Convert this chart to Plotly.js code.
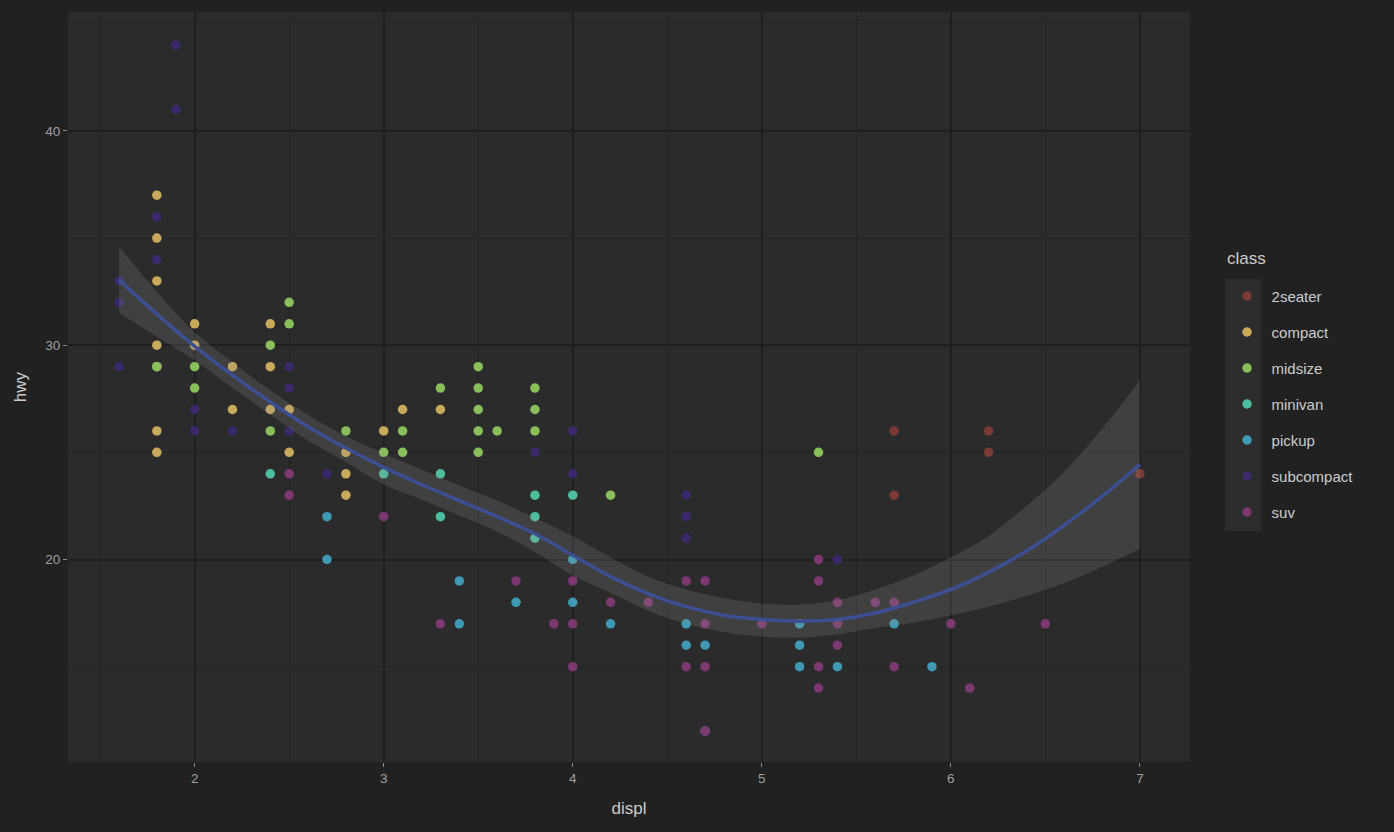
<!DOCTYPE html>
<html>
<head>
<meta charset="utf-8">
<script src="https://cdn.plot.ly/plotly-3.0.1.min.js"></script>
<style>
  html, body { margin: 0; padding: 0; background: #212121; }
  #chart { width: 1394px; height: 832px; }
</style>
</head>
<body>
<div id="chart"></div>
<script>
// ---- data (displ vs hwy, by class) ----
const classNames = ["2seater", "compact", "midsize", "minivan", "pickup", "subcompact", "suv"];
const classColors = ["#7b3a34", "#c9a95b", "#88bf5a", "#4dbd9e", "#3f99b4", "#3b2a6b", "#7d3872"];

const twoseaterX = [5.7, 5.7, 6.2, 6.2, 7.0];
const twoseaterY = [26, 23, 26, 25, 24];

const compactX = [1.8, 1.8, 1.8, 1.8, 1.8, 1.8, 1.8, 2.0, 2.0, 2.2, 2.2, 2.4, 2.4, 2.4, 2.5, 2.5, 2.8, 2.8, 2.8, 3.0, 3.1, 3.3];
const compactY = [37, 35, 33, 30, 29, 26, 25, 31, 30, 29, 27, 31, 29, 27, 27, 25, 25, 24, 23, 26, 27, 27];

const midsizeX = [1.8, 2.0, 2.0, 2.4, 2.4, 2.5, 2.5, 2.8, 3.0, 3.1, 3.1, 3.3, 3.5, 3.5, 3.5, 3.5, 3.5, 3.6, 3.8, 3.8, 3.8, 4.2, 5.3];
const midsizeY = [29, 29, 28, 30, 26, 32, 31, 26, 25, 26, 25, 28, 29, 28, 27, 26, 25, 26, 28, 27, 26, 23, 25];

const minivanX = [2.4, 3.0, 3.3, 3.3, 3.8, 3.8, 3.8, 4.0];
const minivanY = [24, 24, 24, 22, 23, 22, 21, 23];

const pickupX = [2.7, 2.7, 3.4, 3.4, 3.7, 4.0, 4.0, 4.2, 4.6, 4.6, 4.7, 4.7, 5.2, 5.2, 5.2, 5.4, 5.7, 5.9];
const pickupY = [22, 20, 19, 17, 18, 20, 18, 17, 17, 16, 16, 12, 17, 16, 15, 15, 17, 15];

const subcompactX = [1.6, 1.6, 1.6, 1.8, 1.8, 1.9, 1.9, 2.0, 2.0, 2.2, 2.5, 2.5, 2.5, 2.7, 3.8, 4.0, 4.0, 4.6, 4.6, 4.6, 5.4];
const subcompactY = [33, 32, 29, 36, 34, 44, 41, 27, 26, 26, 29, 28, 26, 24, 25, 26, 24, 23, 22, 21, 20];

const suvX = [2.5, 2.5, 3.0, 3.3, 3.7, 3.9, 4.0, 4.0, 4.0, 4.2, 4.4, 4.6, 4.6, 4.7, 4.7, 4.7, 4.7, 5.0, 5.3, 5.3, 5.3, 5.3, 5.4, 5.4, 5.4, 5.6, 5.7, 5.7, 6.0, 6.1, 6.5];
const suvY = [24, 23, 22, 17, 19, 17, 19, 17, 15, 18, 18, 19, 15, 19, 17, 15, 12, 17, 20, 19, 15, 14, 18, 17, 16, 18, 18, 15, 17, 14, 17];

// loess smooth and its band
const smoothX     = [1.6,  1.8,  2.0,  2.2,  2.4,  2.6,  2.8,  3.0,  3.2,  3.4,  3.6,  3.8,  4.0,  4.2,  4.4,  4.6,  4.8,  5.0,  5.2,   5.4,  5.6,  5.8,  6.0,  6.2,  6.4,  6.6,  6.8,  7.0];
const smoothFit   = [33.05,31.45,29.95,28.6, 27.35,26.2, 25.2, 24.3, 23.5, 22.75,22.0, 21.2, 20.2, 19.2, 18.4, 17.8, 17.4, 17.2, 17.12, 17.2, 17.5, 18.0, 18.6, 19.4, 20.4, 21.6, 22.95,24.43];
const smoothUpper = [34.6, 32.5, 30.6, 29.2, 27.9, 26.75,25.75,24.95,24.2, 23.45,22.75,21.95,21.1, 20.1, 19.2, 18.6, 18.2, 17.95,17.9,  18.1, 18.6, 19.25,20.1, 21.1, 22.5, 24.1, 26.1, 28.36];
const smoothLower = [31.5, 30.4, 29.3, 28.0, 26.75,25.55,24.55,23.5, 22.8, 22.05,21.3, 20.35,19.25,18.45,17.6, 17.0, 16.6, 16.4, 16.35, 16.5, 16.8, 17.05,17.4, 17.8, 18.3, 18.9, 19.65,20.5];

const xTicks = [2, 3, 4, 5, 6, 7];
const yTicks = [20, 30, 40];

// ---- build traces ----
const seriesX = [twoseaterX, compactX, midsizeX, minivanX, pickupX, subcompactX, suvX];
const seriesY = [twoseaterY, compactY, midsizeY, minivanY, pickupY, subcompactY, suvY];

const traces = classNames.map((name, i) => ({
  type: "scatter",
  mode: "markers",
  name: name,
  legendgroup: name,
  x: seriesX[i],
  y: seriesY[i],
  marker: { color: classColors[i], size: 9.5, line: { width: 0 } }
}));

traces.push({
  type: "scatter", mode: "lines", x: smoothX, y: smoothLower,
  line: { width: 0, shape: "spline", smoothing: 1 }, showlegend: false, hoverinfo: "skip"
});
traces.push({
  type: "scatter", mode: "lines", x: smoothX, y: smoothUpper,
  line: { width: 0, shape: "spline", smoothing: 1 }, fill: "tonexty",
  fillcolor: "rgba(150,150,150,0.2)", showlegend: false, hoverinfo: "skip"
});
traces.push({
  type: "scatter", mode: "lines", x: smoothX, y: smoothFit,
  line: { width: 3.5, color: "#3d4f93", shape: "spline", smoothing: 1 }, showlegend: false
});

const FONT = "Liberation Sans, Arial, sans-serif";

const axisCommon = {
  showgrid: true,
  gridcolor: "#1e1e1e",
  gridwidth: 2,
  zeroline: false,
  showline: false,
  ticks: "outside",
  ticklen: 4,
  tickwidth: 1,
  tickcolor: "#8a8a8a",
  tickfont: { family: FONT, size: 13.5, color: "#a0a0a0" },
  minor: { showgrid: true, gridcolor: "#242424", gridwidth: 1, ticks: "" }
};

const layout = {
  width: 1394,
  height: 832,
  paper_bgcolor: "#212121",
  plot_bgcolor: "#2b2b2b",
  margin: { l: 68, r: 204, t: 12, b: 70 },
  showlegend: true,
  xaxis: Object.assign({}, axisCommon, {
    range: [1.33, 7.265],
    tickvals: xTicks,
    ticktext: xTicks.map(String),
    minor: Object.assign({}, axisCommon.minor, { tickvals: [1.5, 2.5, 3.5, 4.5, 5.5, 6.5] }),
    title: { text: "displ", standoff: 16, font: { family: FONT, size: 17, color: "#cccccc" } }
  }),
  yaxis: Object.assign({}, axisCommon, {
    range: [10.55, 45.55],
    tickvals: yTicks,
    ticktext: yTicks.map(String),
    minor: Object.assign({}, axisCommon.minor, { tickvals: [15, 25, 35, 45] }),
    title: { text: "hwy", standoff: 14, font: { family: FONT, size: 17, color: "#cccccc" } }
  }),
  legend: {
    x: 1.029,
    xanchor: "left",
    y: 0.643,
    yanchor: "top",
    bgcolor: "rgba(0,0,0,0)",
    itemwidth: 39,
    tracegroupgap: 13.5,
    font: { family: FONT, size: 15, color: "#cccccc" }
  },
  annotations: [{
    text: "class", xref: "paper", yref: "paper",
    x: 1.0312, y: 0.672, xanchor: "left", yanchor: "middle",
    showarrow: false, font: { family: FONT, size: 17, color: "#cccccc" }
  }],
  shapes: [{
    type: "rect", xref: "paper", yref: "paper",
    x0: 1.0312, x1: 1.0633, y0: 0.308, y1: 0.644,
    fillcolor: "#2d2d2d", line: { width: 0 }, layer: "below"
  }]
};

Plotly.newPlot("chart", traces, layout, { displayModeBar: false, staticPlot: true });
</script>
</body>
</html>
